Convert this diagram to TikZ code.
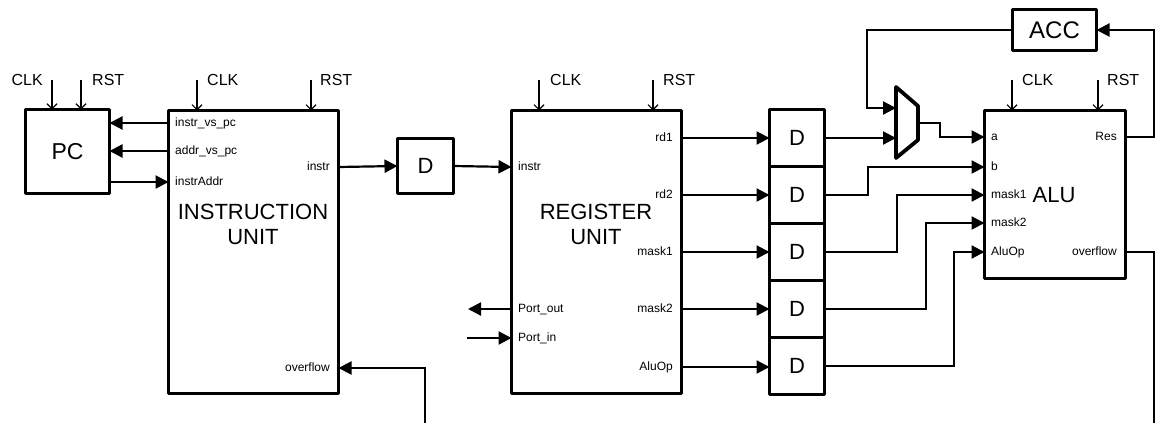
\documentclass[tikz,border=0pt]{standalone}
\usepackage{fontspec}
\setmainfont{Liberation Sans}
\usetikzlibrary{arrows.meta}
\begin{document}
\begin{tikzpicture}[x=1pt,y=-1pt,
  box/.style={draw,line width=3.8pt,line join=round,outer sep=0pt,inner sep=0pt,font=\fontsize{22}{25}\selectfont},
  conn/.style={line width=2.2pt,-{Triangle[length=13pt,width=13pt]}},
  wire/.style={line width=2.2pt},
  clkarrow/.style={line width=1.1pt,-{Straight Barb[length=5pt,width=10pt]}},
  port/.style={inner sep=0pt,text height=9pt,text depth=2.5pt,font=\fontsize{12}{14}\selectfont},
  sig/.style={inner sep=0pt,font=\fontsize{16}{18}\selectfont},
  big/.style={inner sep=0pt,align=center,font=\fontsize{22}{25}\selectfont},
]
\useasboundingbox (0,0) rectangle (1155,423);

% ---------- boxes ----------
\node[box,minimum width=84pt,minimum height=84pt] (pc) at (67.5,151.5) {};
\node[big,font=\fontsize{23}{25}\selectfont] (pctxt) at (67.5,151.5) {PC};
\node[box,minimum width=170pt,minimum height=283pt] (iu) at (253.5,252) {};
\node[box,minimum width=56pt,minimum height=55pt] (d0) at (425.5,166) {D};
\node[box,minimum width=170pt,minimum height=283pt] (ru) at (596.5,252) {};
\node[box,minimum width=55pt,minimum height=57pt] (d1) at (797,138) {D};
\node[box,minimum width=55pt,minimum height=57pt] (d2) at (797,195) {D};
\node[box,minimum width=55pt,minimum height=57pt] (d3) at (797,252) {D};
\node[box,minimum width=55pt,minimum height=57pt] (d4) at (797,309) {D};
\node[box,minimum width=55pt,minimum height=57pt] (d5) at (797,366) {D};
\node[box,minimum width=141pt,minimum height=168pt] (alu) at (1055,194.5) {};
\node[box,minimum width=84pt,minimum height=41pt,font=\fontsize{24}{26}\selectfont] (acc) at (1054.5,30) {ACC};

% multiplexer
\draw[line width=3.8pt,line join=round] (896,87) -- (918,106) -- (918,140) -- (896,158) -- cycle;
\coordinate (muxin1) at (896,108);
\coordinate (muxin2) at (896,138);
\coordinate (muxout) at (918,123);

% ---------- big labels ----------
\node[big] (iutxt) at (253,224.5) {INSTRUCTION\\UNIT};
\node[big] (rutxt) at (596,224.5) {REGISTER\\UNIT};
\node[big] (alutxt) at (1054,195) {ALU};

% ---------- port labels ----------
\node[port,anchor=west] (ivp) at (175,123) {instr\_vs\_pc};
\node[port,anchor=west] (avp) at (175,151) {addr\_vs\_pc};
\node[port,anchor=west] (iad) at (175,182) {instrAddr};
\node[port,anchor=east] (iuinstr) at (330,167) {instr};
\node[port,anchor=east] (iuovf) at (330,368) {overflow};

\node[port,anchor=west] (ruinstr) at (518,167) {instr};
\node[port,anchor=west] (pout) at (518,309) {Port\_out};
\node[port,anchor=west] (pin) at (518,338) {Port\_in};
\node[port,anchor=east] (rd1) at (673,138) {rd1};
\node[port,anchor=east] (rd2) at (673,195) {rd2};
\node[port,anchor=east] (rm1) at (673,252) {mask1};
\node[port,anchor=east] (rm2) at (673,309) {mask2};
\node[port,anchor=east] (rop) at (673,367) {AluOp};

\node[port,anchor=west] (alua) at (991,137) {a};
\node[port,anchor=west] (alub) at (991,167) {b};
\node[port,anchor=west] (alum1) at (991,195) {mask1};
\node[port,anchor=west] (alum2) at (991,223) {mask2};
\node[port,anchor=west] (aluop) at (991,252) {AluOp};
\node[port,anchor=east] (alures) at (1117,137) {Res};
\node[port,anchor=east] (aluovf) at (1117,252) {overflow};

% ---------- CLK / RST ----------
\node[sig,anchor=east] (pcclk) at (43,80) {CLK};
\node[sig,anchor=west] (pcrst) at (92,80) {RST};
\node[sig,anchor=west] (iuclk) at (207,80) {CLK};
\node[sig,anchor=west] (iurst) at (320,80) {RST};
\node[sig,anchor=west] (ruclk) at (550,80) {CLK};
\node[sig,anchor=west] (rurst) at (663,80) {RST};
\node[sig,anchor=west] (aluclk) at (1022,80) {CLK};
\node[sig,anchor=west] (alurst) at (1107,80) {RST};

\coordinate (pcclkx) at (52,80);
\coordinate (pcrstx) at (81,80);
\coordinate (iuclkx) at (197,80);
\coordinate (iurstx) at (311,80);
\coordinate (ruclkx) at (539,80);
\coordinate (rurstx) at (653,80);
\coordinate (aluclkx) at (1012,80);
\coordinate (alurstx) at (1098,80);
\foreach \c/\b in {pcclkx/pc,pcrstx/pc,iuclkx/iu,iurstx/iu,ruclkx/ru,rurstx/ru,aluclkx/alu,alurstx/alu}
  \draw[clkarrow] (\c) -- (\c |- \b.north);

% ---------- connectors ----------
\draw[conn] (ivp -| iu.west) -- (ivp -| pc.east);
\draw[conn] (avp -| iu.west) -- (avp -| pc.east);
\draw[conn] (iad -| pc.east) -- (iad -| iu.west);
\draw[conn] (iuinstr -| iu.east) -- (d0.west);
\draw[conn] (d0.east) -- (ruinstr -| ru.west);

\coordinate (poutend) at (468,309);
\coordinate (pinstart) at (467,338);
\draw[conn] (pout -| ru.west) -- (poutend);
\draw[conn] (pinstart) -- (pin -| ru.west);

\draw[conn] (rd1 -| ru.east) -- (rd1 -| d1.west);
\draw[conn] (rd2 -| ru.east) -- (rd2 -| d2.west);
\draw[conn] (rm1 -| ru.east) -- (rm1 -| d3.west);
\draw[conn] (rm2 -| ru.east) -- (rm2 -| d4.west);
\draw[conn] (rop -| ru.east) -- (rop -| d5.west);

\draw[conn] (d1.east) -- (muxin2);
\draw[conn] (d2.east) -- (868,195) |- (alub -| alu.west);
\draw[conn] (d3.east) -- (897,252) |- (alum1 -| alu.west);
\draw[conn] (d4.east) -- (926,309) |- (alum2 -| alu.west);
\draw[conn] (d5.east) -- (954,366) |- (aluop -| alu.west);
\draw[conn] (muxout) -- (940,123) |- (alua -| alu.west);

\draw[conn] (alures -| alu.east) -- (1154,137) |- (acc.east);
\draw[conn] (acc.west) -| (867,108) -- (muxin1);

\coordinate (ovfout) at (1154,423);
\coordinate (ovfin) at (425,423);
\draw[wire] (aluovf -| alu.east) -| (ovfout);
\draw[conn] (ovfin) |- (iuovf -| iu.east);
\end{tikzpicture}
\end{document}
